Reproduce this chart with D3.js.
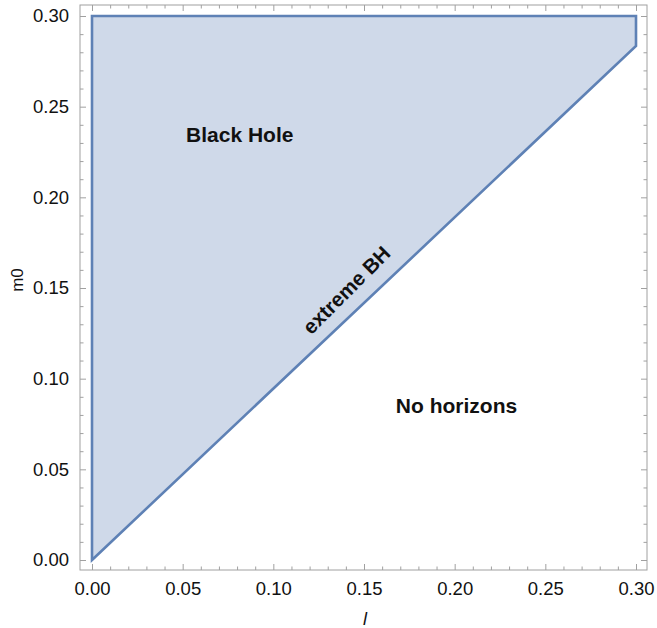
<!DOCTYPE html>
<html>
<head>
<meta charset="utf-8">
<script src="https://cdn.jsdelivr.net/npm/d3@7"></script>
<style>
  body { margin: 0; background: #fff; }
  svg { font-family: "Liberation Sans", Arial, Helvetica, sans-serif; }
</style>
</head>
<body>
<div id="chart"></div>
<script>
// region boundary (l, m0) - black hole region, lower edge is the extreme BH line
var regionL  = [0, 0.30, 0.30, 0];
var regionM0 = [0, 0.2835, 0.30, 0.30];

var majorTicks = [0, 0.05, 0.10, 0.15, 0.20, 0.25, 0.30];
var minorTicks = d3.range(0, 31).map(function(i){ return i / 100; })
                   .filter(function(v){ return Math.round(v * 100) % 5 !== 0; });

var labels = [
  {text: "Black Hole", l: 0.0815, m0: 0.2345},
  {text: "No horizons", l: 0.201, m0: 0.0850}
];
var lineLabel = {text: "extreme BH", l: 0.1402, m0: 0.149};

var width = 657, height = 628;
var frame = {left: 80, right: 647, top: 5, bottom: 570};

var svg = d3.select("#chart").append("svg")
            .attr("width", width)
            .attr("height", height);

var x = d3.scaleLinear().domain([0, 0.30]).range([92, 636]);
var y = d3.scaleLinear().domain([0, 0.30]).range([560, 16]);

var fmt = d3.format(".2f");

// region
var pts = regionL.map(function(d, i){ return [x(d), y(regionM0[i])]; });
svg.append("path")
   .attr("d", d3.line()(pts) + "Z")
   .attr("fill", "#cfd9e9")
   .attr("stroke", "#5e81b5")
   .attr("stroke-width", 2.6)
   .attr("stroke-linejoin", "miter");

// axes: ticks inward, frame drawn as rect
function styleAxis(g) {
  g.select(".domain").remove();
  g.selectAll(".tick line").attr("stroke", "#a0a0a0");
  g.selectAll(".tick text").attr("fill", "#111").attr("font-size", 18.5);
}

svg.append("g").attr("transform", "translate(0," + frame.bottom + ")")
   .call(d3.axisBottom(x).tickValues(majorTicks).tickFormat(fmt).tickSizeInner(-6).tickPadding(12))
   .call(styleAxis);
svg.append("g").attr("transform", "translate(0," + frame.bottom + ")")
   .call(d3.axisBottom(x).tickValues(minorTicks).tickFormat("").tickSizeInner(-3.5))
   .call(styleAxis);
svg.append("g").attr("transform", "translate(0," + frame.top + ")")
   .call(d3.axisTop(x).tickValues(majorTicks).tickFormat("").tickSizeInner(-6))
   .call(styleAxis);
svg.append("g").attr("transform", "translate(0," + frame.top + ")")
   .call(d3.axisTop(x).tickValues(minorTicks).tickFormat("").tickSizeInner(-3.5))
   .call(styleAxis);

svg.append("g").attr("transform", "translate(" + frame.left + ",0)")
   .call(d3.axisLeft(y).tickValues(majorTicks).tickFormat(fmt).tickSizeInner(-6).tickPadding(11))
   .call(styleAxis);
svg.append("g").attr("transform", "translate(" + frame.left + ",0)")
   .call(d3.axisLeft(y).tickValues(minorTicks).tickFormat("").tickSizeInner(-3.5))
   .call(styleAxis);
svg.append("g").attr("transform", "translate(" + frame.right + ",0)")
   .call(d3.axisRight(y).tickValues(majorTicks).tickFormat("").tickSizeInner(-6))
   .call(styleAxis);
svg.append("g").attr("transform", "translate(" + frame.right + ",0)")
   .call(d3.axisRight(y).tickValues(minorTicks).tickFormat("").tickSizeInner(-3.5))
   .call(styleAxis);

svg.append("rect")
   .attr("x", frame.left).attr("y", frame.top)
   .attr("width", frame.right - frame.left)
   .attr("height", frame.bottom - frame.top)
   .attr("fill", "none")
   .attr("stroke", "#a0a0a0")
   .attr("stroke-width", 1);

// region labels
svg.selectAll(".rlabel")
   .data(labels)
   .enter().append("text")
   .attr("class", "rlabel")
   .attr("x", function(d){ return x(d.l); })
   .attr("y", function(d){ return y(d.m0); })
   .attr("text-anchor", "middle")
   .attr("dominant-baseline", "central")
   .attr("font-size", 21)
   .attr("font-weight", "bold")
   .attr("fill", "#111")
   .text(function(d){ return d.text; });

svg.append("text")
   .attr("transform", "translate(" + x(lineLabel.l) + "," + y(lineLabel.m0) + ") rotate(-45)")
   .attr("text-anchor", "middle")
   .attr("dominant-baseline", "central")
   .attr("font-size", 20.5)
   .attr("font-weight", "bold")
   .attr("fill", "#111")
   .text(lineLabel.text);

// axis titles
svg.append("text")
   .attr("transform", "translate(23,280) rotate(-90)")
   .attr("text-anchor", "middle")
   .attr("font-size", 17)
   .attr("fill", "#111")
   .text("m0");

svg.append("text")
   .attr("x", 365).attr("y", 625)
   .attr("text-anchor", "middle")
   .attr("font-size", 18)
   .attr("font-style", "italic")
   .attr("fill", "#111")
   .text("l");
</script>
</body>
</html>
